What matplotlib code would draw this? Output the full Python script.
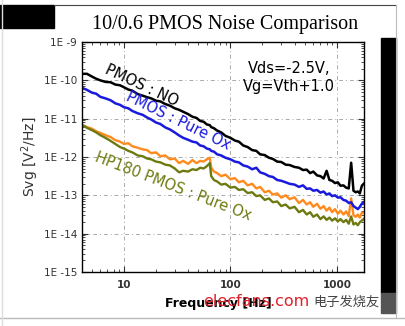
import numpy as np
import matplotlib
matplotlib.use('Agg')
import matplotlib.pyplot as plt
import matplotlib.patches as mpatches
from matplotlib.ticker import LogLocator, FixedLocator, FuncFormatter, NullFormatter

# frequency points [Hz]
freq = [4, 4.5, 5, 5.5, 6, 6.7, 7.5, 8.3, 9.2, 10,
        11, 12, 13.5, 15, 16.5, 18, 20, 22, 24.5, 27,
        30, 33, 36, 40, 44, 48, 52, 56, 60, 64,
        66, 70, 75, 82, 90, 100, 110, 120, 132, 145,
        160, 175, 190, 210, 230, 250, 275, 300, 330, 360,
        400, 440, 480, 520, 560, 600, 650, 700, 750, 800,
        850, 900, 960, 1020, 1080, 1150, 1220, 1290, 1360, 1430,
        1500, 1570, 1640, 1710, 1780]

# log10(Svg)
pmos_no = [-9.83, -9.83, -9.90, -9.96, -10.00, -10.04, -10.05, -10.11, -10.13, -10.18,
           -10.24, -10.27, -10.36, -10.40, -10.44, -10.47, -10.53, -10.55, -10.62, -10.66,
           -10.73, -10.77, -10.82, -10.88, -10.95, -10.98, -11.06, -11.08, -11.15, -11.17,
           -11.22, -11.25, -11.31, -11.36, -11.45, -11.50, -11.57, -11.60, -11.70, -11.74,
           -11.82, -11.84, -11.93, -11.95, -12.02, -12.05, -12.12, -12.13, -12.20, -12.21,
           -12.26, -12.28, -12.34, -12.33, -12.42, -12.38, -12.48, -12.50, -12.56, -12.36,
           -12.60, -12.62, -12.68, -12.66, -12.75, -12.74, -12.80, -12.82, -12.15, -12.88,
           -12.92, -12.90, -12.95, -12.76, -12.70]

pmos_pure = [-10.19, -10.25, -10.32, -10.35, -10.43, -10.47, -10.52, -10.60, -10.64, -10.70,
             -10.73, -10.80, -10.86, -10.90, -10.97, -11.02, -11.10, -11.14, -11.23, -11.28,
             -11.36, -11.44, -11.50, -11.55, -11.60, -11.62, -11.70, -11.72, -11.78, -11.80,
             -11.84, -11.86, -11.93, -11.96, -12.02, -12.06, -12.12, -12.14, -12.22, -12.25,
             -12.32, -12.28, -12.40, -12.44, -12.50, -12.52, -12.60, -12.62, -12.66, -12.70,
             -12.72, -12.78, -12.74, -12.83, -12.82, -12.88, -12.86, -12.93, -12.90, -12.98,
             -12.95, -13.02, -13.00, -13.06, -13.05, -13.12, -13.14, -13.20, -13.18, -13.28,
             -13.32, -13.36, -13.30, -13.22, -13.18]

pmos_orange = [-11.16, -11.22, -11.26, -11.33, -11.37, -11.43, -11.48, -11.56, -11.60, -11.66,
               -11.64, -11.72, -11.76, -11.80, -11.82, -11.90, -11.88, -11.98, -11.96, -12.06,
               -12.04, -12.16, -12.10, -12.18, -12.08, -12.16, -12.10, -12.12, -12.06, -12.02,
               -12.28, -12.38, -12.42, -12.50, -12.46, -12.58, -12.55, -12.66, -12.62, -12.74,
               -12.70, -12.82, -12.78, -12.92, -12.88, -12.98, -12.95, -13.06, -13.00, -13.10,
               -13.05, -13.20, -13.12, -13.24, -13.18, -13.30, -13.22, -13.35, -13.28, -13.40,
               -13.32, -13.44, -13.36, -13.48, -13.40, -13.50, -13.42, -13.54, -13.08, -13.52,
               -13.56, -13.50, -13.58, -13.46, -13.45]

hp180_pure = [-11.15, -11.24, -11.30, -11.36, -11.43, -11.50, -11.58, -11.66, -11.74, -11.78,
              -11.84, -11.88, -11.96, -11.98, -12.04, -12.06, -12.12, -12.14, -12.20, -12.22,
              -12.30, -12.40, -12.36, -12.38, -12.32, -12.34, -12.28, -12.30, -12.24, -12.16,
              -12.50, -12.60, -12.64, -12.72, -12.70, -12.80, -12.78, -12.86, -12.84, -12.94,
              -12.92, -13.02, -13.00, -13.12, -13.08, -13.18, -13.16, -13.28, -13.24, -13.34,
              -13.30, -13.44, -13.38, -13.50, -13.44, -13.56, -13.50, -13.62, -13.55, -13.64,
              -13.58, -13.66, -13.60, -13.68, -13.62, -13.70, -13.64, -13.74, -13.55, -13.76,
              -13.72, -13.78, -13.70, -13.66, -13.62]

fig = plt.figure(figsize=(4.06, 3.26), dpi=100)
fig.patch.set_facecolor('white')
ax = fig.add_axes([82/406, 1-272/326, (364-82)/406, (272-42)/326])

ax.plot(freq, 10**np.array(pmos_orange), color='#ff8a1e', lw=1.7)
ax.plot(freq, 10**np.array(hp180_pure), color='#6e7a10', lw=1.7)
ax.plot(freq, 10**np.array(pmos_pure), color='#1a1adc', lw=1.8)
ax.plot(freq, 10**np.array(pmos_no), color='black', lw=1.8)

ax.set_xscale('log')
ax.set_yscale('log')
ax.set_xlim(4.04, 1795)
ax.set_ylim(1e-15, 1e-9)

ax.xaxis.set_major_locator(FixedLocator([10, 100, 1000]))
ax.xaxis.set_major_formatter(FuncFormatter(lambda v, p: '%d' % v))
ax.xaxis.set_minor_locator(LogLocator(base=10, subs=np.arange(2, 10)))
ax.xaxis.set_minor_formatter(NullFormatter())
ax.yaxis.set_major_locator(FixedLocator([10.0**k for k in range(-15, -8)]))
ax.yaxis.set_major_formatter(FuncFormatter(lambda v, p: '1E -%d' % round(-np.log10(v))))
ax.yaxis.set_minor_locator(LogLocator(base=10, subs=np.arange(2, 10)))
ax.yaxis.set_minor_formatter(NullFormatter())

ax.tick_params(which='both', direction='in', top=True, right=True, color='#333333')
ax.tick_params(which='major', length=4, labelsize=7.5, labelcolor='#333333')
ax.tick_params(which='minor', length=2)
ax.tick_params(axis='x', pad=6)
for lbl in ax.get_xticklabels():
    lbl.set_fontweight('bold')
ax.grid(True, which='major', color='#aaaaaa', linestyle=(0, (4, 3, 1, 3)), lw=0.7)
for s in ax.spines.values():
    s.set_linewidth(1.0)

ax.set_ylabel('Svg [V$^2$/Hz]', fontsize=10, color='#333333', labelpad=2)

# curve labels
ax.text(0.21, 0.81, 'PMOS : NO', transform=ax.transAxes, rotation=-25,
        fontsize=10.5, ha='center', va='center', rotation_mode='anchor')
ax.text(0.34, 0.655, 'PMOS : Pure Ox', transform=ax.transAxes, rotation=-26,
        fontsize=10.5, ha='center', va='center', color='#1a1adc', rotation_mode='anchor')
ax.text(0.325, 0.37, 'HP180 PMOS : Pure Ox', transform=ax.transAxes, rotation=-21,
        fontsize=10.5, ha='center', va='center', color='#6e7a10', rotation_mode='anchor')
ax.text(0.733, 0.845, 'Vds=-2.5V,\nVg=Vth+1.0', transform=ax.transAxes,
        fontsize=10.5, ha='center', va='center', linespacing=1.2)

fig.text(225/406, 1-25/326, '10/0.6 PMOS Noise Comparison', fontsize=14.5,
         family='Liberation Serif', ha='center', va='center')

fig.text(165/406, 1-303/326, 'Frequency [Hz]', fontsize=9, fontweight='bold',
         ha='left', va='center')
fig.text(203/406, 1-302/326, 'elecfans.com', fontsize=11.5, color='#e0202a',
         ha='left', va='center')
fig.text(313/406, 1-302/326, '电子发烧友', fontsize=9.5, color='#444444',
         family=['Noto Sans CJK SC', 'DejaVu Sans'], ha='left', va='center')

# slide decorations
fig.add_artist(mpatches.Rectangle((0, 1-28/326), 54/406, 23/326, transform=fig.transFigure,
                                  color='black'))
fig.add_artist(mpatches.Rectangle((381/406, 1-293/326), 15/406, 255/326,
                                  transform=fig.transFigure, color='black'))
fig.add_artist(mpatches.Rectangle((381/406, 1-313/326), 15/406, 20/326,
                                  transform=fig.transFigure, color='#555555'))
fig.add_artist(plt.Line2D([54/406, 396/406], [1-5/326, 1-5/326], transform=fig.transFigure,
                          color='#444444', lw=0.8))
fig.add_artist(plt.Line2D([396/406, 396/406], [1-5/326, 1-318/326], transform=fig.transFigure,
                          color='#bbbbbb', lw=0.8))
fig.add_artist(plt.Line2D([0, 406/406], [1-318/326, 1-318/326], transform=fig.transFigure,
                          color='#bbbbbb', lw=1.0))
fig.add_artist(plt.Line2D([2/406, 2/406], [0, 1], transform=fig.transFigure,
                          color='#dddddd', lw=1.0))

fig.savefig('out.png', dpi=100, facecolor='white')
